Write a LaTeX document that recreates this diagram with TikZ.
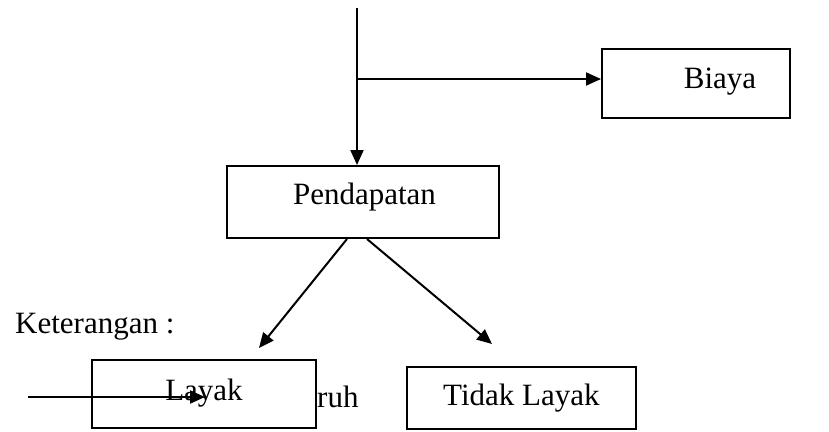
\documentclass[tikz,border=0pt]{standalone}
\usepackage{fontspec}
\setmainfont{Liberation Serif}
\usetikzlibrary{arrows.meta}
\begin{document}
\begin{tikzpicture}[x=1pt,y=-1pt,
  box/.style={draw,line width=2pt,minimum width=#1,inner sep=0pt},
  lbl/.style={anchor=base,inner sep=0pt,font=\fontsize{31}{36}\selectfont},
  conn/.style={line width=2pt,-{Triangle[length=15pt,width=13pt]}}]
\useasboundingbox (0,0) rectangle (829,431);
% boxes
\node[box=188pt,minimum height=69pt] (biaya) at (696,83.5) {};
\node[lbl] (biayaT) at (720,88) {Biaya};
\node[box=272pt,minimum height=72pt] (pend) at (363,202) {};
\node[lbl] (pendT) at (364.5,204) {Pendapatan};
\node[lbl,anchor=base west] (ket) at (15,333) {Keterangan :};
\node[lbl,anchor=base west] (ruh) at (317,407) {ruh};
\node[box=224pt,minimum height=68pt,fill=white] (layak) at (204,394) {};
\node[lbl] (layakT) at (204,400) {Layak};
\node[box=229pt,minimum height=62pt] (tidak) at (521.5,398) {};
\node[lbl,anchor=base west] (tidakT) at (443,405) {Tidak Layak};
% connectors
\coordinate (top) at (357,8);
\coordinate (branch) at (357,79);
\draw[conn] (top) -- (top |- pend.north);
\draw[conn] (branch) -- (branch -| biaya.west);
\coordinate (ls) at (347,239);
\coordinate (rs) at (367,239);
\coordinate (lt) at (259,348);
\coordinate (rt) at (492,344);
\draw[conn] (ls) -- (lt);
\draw[conn] (rs) -- (rt);
\coordinate (keyA) at (28,397);
\coordinate (keyB) at (205,397);
\draw[conn] (keyA) -- (keyB);
\end{tikzpicture}
\end{document}
